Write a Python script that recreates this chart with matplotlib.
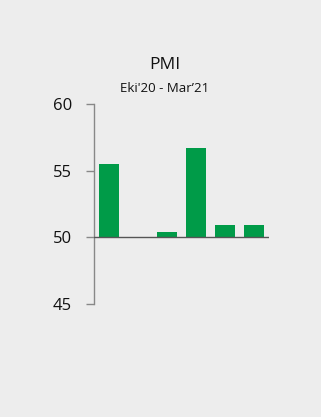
import matplotlib.pyplot as plt

# PMI readings, Oct'20 - Mar'21 (second month not shown above the 50 line)
months = ["Eki", "Kas", "Ara", "Oca", "Şub", "Mar"]
pmi = [55.5, 50.0, 50.4, 56.7, 50.95, 50.9]
yticks = [45, 50, 55, 60]

bg = "#ededed"
green = "#009b48"

plt.rcParams['font.family'] = ['Open Sans', 'DejaVu Sans']

fig = plt.figure(figsize=(3.21, 4.17), dpi=100, facecolor=bg)
ax = fig.add_axes([0.2938, 0.271, 0.5433, 0.4796], facecolor=bg)

x = list(range(len(months)))
ax.bar(x, [v - 50 for v in pmi], bottom=50, width=0.67, color=green)
ax.axhline(50, color="#555555", lw=1.0, zorder=3)

ax.set_xlim(-0.5, 5.5)
ax.set_ylim(45, 60)
ax.set_yticks(yticks)
ax.set_xticks([])

for s in ["top", "right", "bottom"]:
    ax.spines[s].set_visible(False)
ax.spines["left"].set_color("#888888")
ax.spines["left"].set_linewidth(1.0)
ax.tick_params(axis="y", length=6, width=1.0, color="#888888",
               labelsize=12, labelcolor="#111111", pad=10)

fig.text(0.513, 0.843, "PMI", ha="center", va="center", fontsize=12.5, color="#111111")
fig.text(0.513, 0.787, "Eki'20 - Mar\u201921", ha="center", va="center",
         fontsize=9.5, color="#111111")

fig.savefig("out.png", dpi=100, facecolor=bg)
